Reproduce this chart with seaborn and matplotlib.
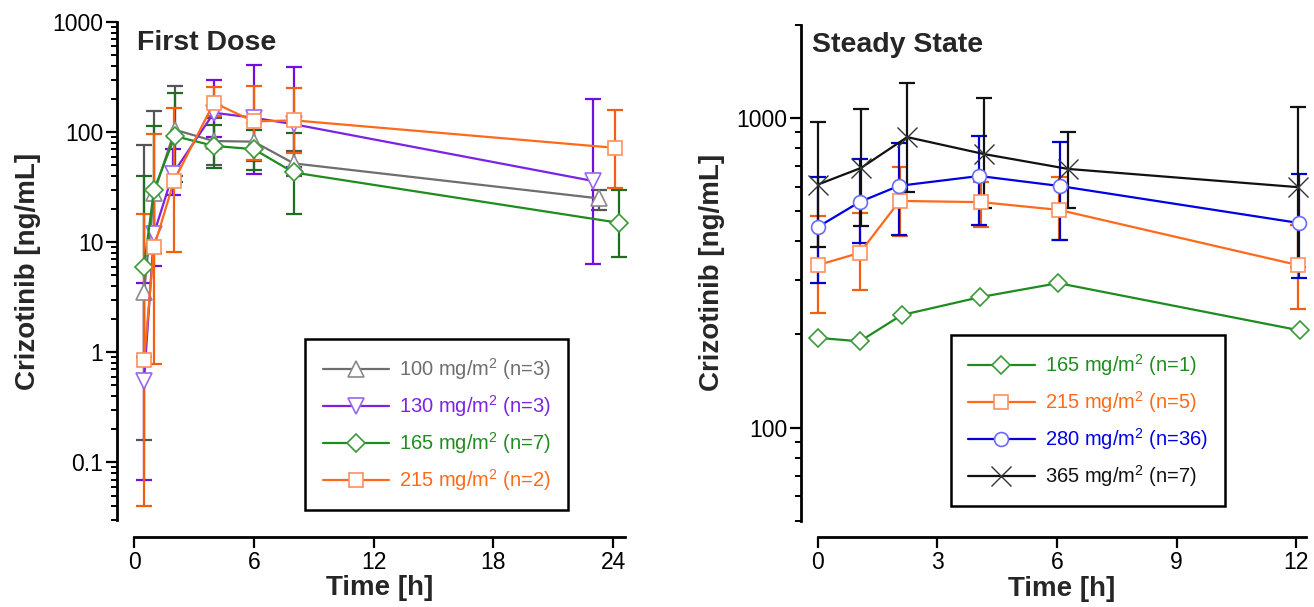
import seaborn as sns
from matplotlib import pyplot as plt
from matplotlib import ticker
import numpy as np

sns.set_theme(style="ticks")
plt.rcParams['font.family'] = ['Liberation Sans', 'DejaVu Sans']
plt.rcParams['mathtext.default'] = 'regular'

# first dose (time h, conc ng/mL, lower / upper error ends)
t100 = [0.5, 1.0, 2.05, 4.0, 6.0, 8.0, 23.3]
c100 = [3.5, 28, 105, 83, 82, 52, 25]
lo100 = [0.16, 8, 40, 50, 55, 40, 19.5]
hi100 = [77, 155, 262, 135, 120, 68, 29.6]

t130 = [0.5, 1.0, 1.95, 4.0, 6.0, 8.0, 23.0]
c130 = [0.55, 12, 42, 150, 135, 118, 36]
lo130 = [0.07, 6.1, 27, 90, 42, 48, 6.3]
hi130 = [4.3, 24, 70, 300, 410, 390, 200]

t165 = [0.5, 1.0, 2.05, 4.0, 6.0, 8.0, 24.3]
c165 = [6.0, 30, 92, 75, 70, 43, 15]
lo165 = [0.9, 8, 35, 47, 45, 18, 7.3]
hi165 = [40, 113, 226, 116, 105, 98, 30]

t215 = [0.5, 1.0, 2.0, 4.0, 6.0, 8.0, 24.1]
c215 = [0.85, 9, 36, 185, 125, 128, 72]
lo215 = [0.04, 0.78, 8.2, 140, 56, 64, 31]
hi215 = [18, 96, 166, 256, 262, 251, 160]

# steady state
ts165 = [0, 1.05, 2.1, 4.07, 6.03, 12.1]
cs165 = [195, 190, 231, 264, 293, 206]

ts215 = [0, 1.05, 2.05, 4.1, 6.05, 12.05]
cs215 = [335, 367, 540, 535, 505, 335]
los215 = [235, 279, 415, 445, 405, 242]
his215 = [483, 494, 695, 620, 645, 450]

ts280 = [0, 1.05, 2.03, 4.05, 6.08, 12.08]
cs280 = [445, 536, 604, 650, 603, 458]
los280 = [293, 395, 419, 452, 404, 305]
his280 = [645, 737, 830, 875, 837, 660]

ts365 = [0, 1.08, 2.24, 4.17, 6.28, 12.06]
cs365 = [610, 690, 868, 765, 685, 598]
los365 = [384, 448, 577, 512, 512, 330]
his365 = [970, 1069, 1297, 1160, 901, 1085]

# (label, t, c, lo, hi, marker, ms, line colour, edge colour, errbar colour)
first = [
    ("100 mg/m$^2$ (n=3)", t100, c100, lo100, hi100, '^', 11, '#6e6e6e', '#8a8a8a', '#555555'),
    ("130 mg/m$^2$ (n=3)", t130, c130, lo130, hi130, 'v', 11, '#7a22e6', '#9a66f0', '#7010e0'),
    ("165 mg/m$^2$ (n=7)", t165, c165, lo165, hi165, 'D', 9, '#1e8c1e', '#3a9a3a', '#226b22'),
    ("215 mg/m$^2$ (n=2)", t215, c215, lo215, hi215, 's', 10, '#ff6a1a', '#ff9060', '#f06010'),
]
steady = [
    ("165 mg/m$^2$ (n=1)", ts165, cs165, None, None, 'D', 9, '#1e8c1e', '#3a9a3a', '#226b22'),
    ("215 mg/m$^2$ (n=5)", ts215, cs215, los215, his215, 's', 10, '#ff6a1a', '#ff9060', '#f06010'),
    ("280 mg/m$^2$ (n=36)", ts280, cs280, los280, his280, 'o', 10, '#0000e6', '#6a6aff', '#0000d0'),
    ("365 mg/m$^2$ (n=7)", ts365, cs365, los365, his365, 'x', 14, '#111111', '#333333', '#111111'),
]

fig = plt.figure(figsize=(13.14, 6.07), dpi=100)
ax1 = fig.add_axes([0.102, 0.1433, 0.3737, 0.8204])
ax2 = fig.add_axes([0.6225, 0.1420, 0.3714, 0.8170])


def draw(ax, series):
    for lab, t, c, lo, hi, mk, ms, col, ec, ecol in series:
        if lo is not None:
            c_ = np.array(c)
            yerr = [c_ - np.array(lo), np.array(hi) - c_]
            eb = ax.errorbar(t, c, yerr=yerr, fmt='none', ecolor=ecol, elinewidth=1.6,
                             capsize=6, capthick=1.6, zorder=2)
            for art in eb.lines[1] + eb.lines[2]:
                art.set_clip_on(False)
        mew = 1.2 if mk != 'x' else 1.0
        sns.lineplot(x=t, y=c, ax=ax, color=col, lw=1.6, marker=mk, markersize=ms,
                     markerfacecolor='white', markeredgecolor=ec, markeredgewidth=mew,
                     label=lab, sort=False, errorbar=None, zorder=3, clip_on=False)


draw(ax1, first)
draw(ax2, steady)

for ax in (ax1, ax2):
    ax.set_yscale('log')
    for s in ('top', 'right'):
        ax.spines[s].set_visible(False)
    for s in ('left', 'bottom'):
        ax.spines[s].set_position(('outward', 12))
        ax.spines[s].set_linewidth(2.0)
        ax.spines[s].set_color('black')
    ax.tick_params(which='major', length=8, width=1.6, color='black', labelsize=16.5,
                   labelcolor='black', pad=2)
    ax.tick_params(which='minor', length=4.5, width=1.4, color='black')
    ax.yaxis.set_major_formatter(ticker.FuncFormatter(lambda v, p: f'{v:g}'))
    ax.yaxis.set_minor_locator(ticker.LogLocator(base=10, subs=np.arange(2, 10), numticks=20))
    ax.yaxis.set_minor_formatter(ticker.NullFormatter())
    ax.set_xlabel('Time [h]', fontsize=20, fontweight='bold', labelpad=1)
    ax.set_ylabel('Crizotinib [ng/mL]', fontsize=20, fontweight='bold', labelpad=8)
    ax.grid(False)

ax1.set_xlim(0, 24.6)
ax1.set_ylim(0.03, 1000)
ax1.set_xticks([0, 6, 12, 18, 24])
ax1.yaxis.set_major_locator(ticker.FixedLocator([0.1, 1, 10, 100, 1000]))

ax2.set_xlim(0, 12.25)
ax2.set_ylim(50, 2000)
ax2.set_xticks([0, 3, 6, 9, 12])
ax2.yaxis.set_major_locator(ticker.FixedLocator([100, 1000]))

ax1.text(0.006, 0.985, 'First Dose', transform=ax1.transAxes, ha='left', va='top',
         fontsize=20.5, fontweight='bold')
ax2.text(-0.012, 0.985, 'Steady State', transform=ax2.transAxes, ha='left', va='top',
         fontsize=20.5, fontweight='bold')

for ax, series, anchor in ((ax1, first, (0.884, 0.02)), (ax2, steady, (0.834, 0.03))):
    leg = ax.legend(loc='lower right', bbox_to_anchor=anchor, fontsize=14.5,
                    handlelength=3.3, fancybox=False, framealpha=1, edgecolor='black',
                    borderpad=0.85, labelspacing=0.55, handletextpad=0.5, borderaxespad=0)
    leg.get_frame().set_linewidth(1.8)
    for txt, s in zip(leg.get_texts(), series):
        txt.set_color(s[7])

plt.savefig('out.png', dpi=100)
